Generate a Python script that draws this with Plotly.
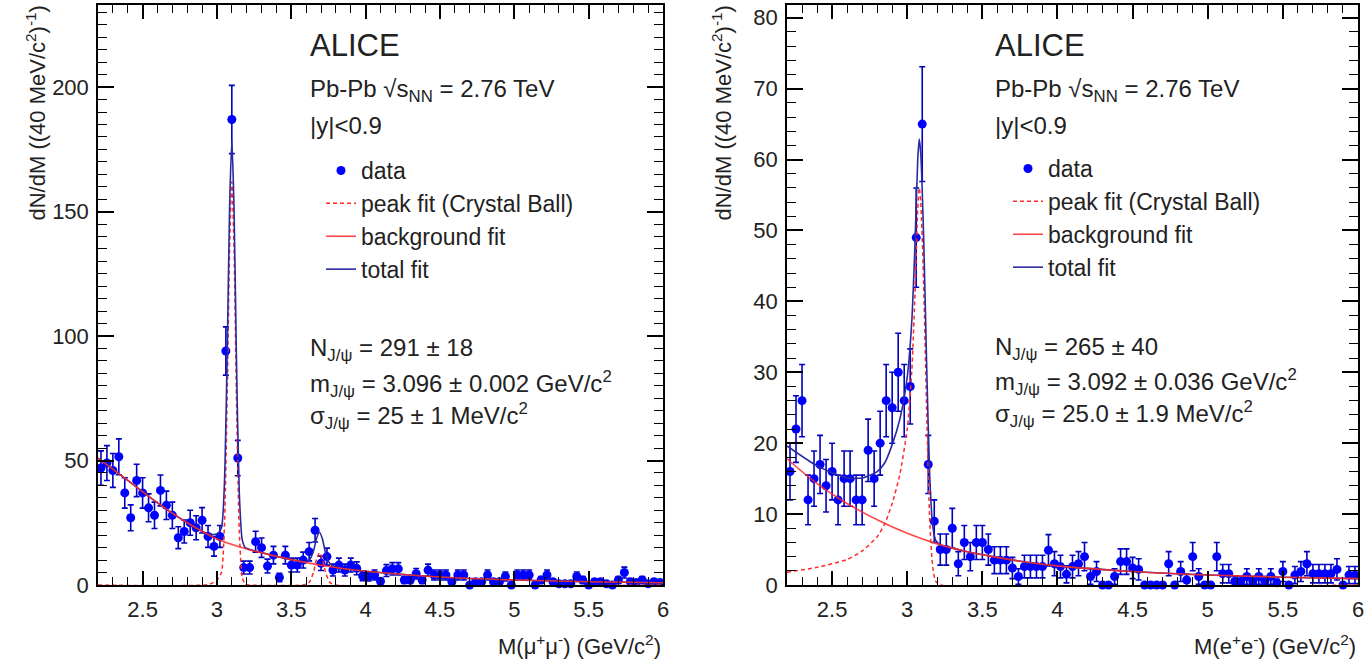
import plotly.graph_objects as go

# ---------------- data ----------------
MASS_BINS = [2.22, 2.26, 2.30, 2.34, 2.38, 2.42, 2.46, 2.50, 2.54, 2.58,
             2.62, 2.66, 2.70, 2.74, 2.78, 2.82, 2.86, 2.90, 2.94, 2.98,
             3.02, 3.06, 3.10, 3.14, 3.18, 3.22, 3.26, 3.30, 3.34, 3.38,
             3.42, 3.46, 3.50, 3.54, 3.58, 3.62, 3.66, 3.70, 3.74, 3.78,
             3.82, 3.86, 3.90, 3.94, 3.98, 4.02, 4.06, 4.10, 4.14, 4.18,
             4.22, 4.26, 4.30, 4.34, 4.38, 4.42, 4.46, 4.50, 4.54, 4.58,
             4.62, 4.66, 4.70, 4.74, 4.78, 4.82, 4.86, 4.90, 4.94, 4.98,
             5.02, 5.06, 5.10, 5.14, 5.18, 5.22, 5.26, 5.30, 5.34, 5.38,
             5.42, 5.46, 5.50, 5.54, 5.58, 5.62, 5.66, 5.70, 5.74, 5.78,
             5.82, 5.86, 5.90, 5.94, 5.98]

MUMU_COUNTS = [47, 49, 46, 51.5, 37, 27, 42, 37, 31, 28,
               38, 32, 28, 19, 21.5, 25, 23, 26, 19.5, 15.5,
               19.5, 94, 187, 51, 7, 7, 17.4, 15, 7.6, 12,
               3, 12, 8, 8, 10, 13.4, 22, 8.7, 11.4, 6,
               8, 6, 8, 6.7, 3.6, 3.4, 4, 1.5, 5.8, 6.5,
               6.5, 2, 2, 4.5, 2, 6, 4, 4, 4, 1.3,
               4, 4, 0, 1.3, 1.3, 4, 1.3, 1.3, 3.4, 0,
               4, 4, 4, 0, 2, 4, 1.3, 0.5, 0.5, 0.5,
               3.4, 2, 0, 1.3, 1.3, 0.5, 0, 2, 5, 1.3,
               1, 2, 0.5, 1.3, 1]
MUMU_ERRORS = [6.9, 7.0, 6.8, 7.2, 6.1, 5.2, 6.5, 6.1, 5.6, 5.3,
               6.2, 5.7, 5.3, 4.4, 4.6, 5.0, 4.8, 5.1, 4.4, 3.9,
               4.4, 9.7, 13.7, 7.1, 2.6, 2.6, 4.2, 3.9, 2.8, 3.5,
               1.7, 3.5, 2.8, 2.8, 3.2, 3.7, 4.7, 2.9, 3.4, 2.4,
               2.8, 2.4, 2.8, 2.6, 1.9, 1.8, 2.0, 1.2, 2.4, 2.5,
               2.5, 1.4, 1.4, 2.1, 1.4, 2.4, 2.0, 2.0, 2.0, 1.1,
               2.0, 2.0, 0, 1.1, 1.1, 2.0, 1.1, 1.1, 1.8, 0,
               2.0, 2.0, 2.0, 0, 1.4, 2.0, 1.1, 0.7, 0.7, 0.7,
               1.8, 1.4, 0, 1.1, 1.1, 0.7, 0, 1.4, 2.2, 1.1,
               1.0, 1.4, 0.7, 1.1, 1.0]

EE_COUNTS = [16, 22, 26, 12, 15, 17, 14, 16, 12, 15,
             15, 12, 12, 19, 15, 20, 26, 25, 30, 26,
             28, 49, 65, 17, 9, 5, 5, 8, 3, 6,
             4, 6, 6, 5, 3.5, 3.5, 3.5, 2.4, 1.2, 2.6,
             2.6, 2.6, 2.6, 4.9, 3, 2.6, 1.5, 2.6, 3, 4,
             1.2, 1.9, 0, 0, 1.2, 3.3, 3.3, 2.4, 2.2, 0,
             0, 0, 0, 3, 0, 1.9, 0.7, 4, 1.2, 0,
             0, 4, 1.6, 1.6, 0.5, 0.5, 1.2, 0.5, 1.2, 0.5,
             1.2, 0.3, 1.9, 0, 1.4, 1.9, 3, 1.6, 1.6, 1.6,
             1.6, 2.2, 0, 1.4, 1.4]
EE_ERRORS = [4.0, 4.7, 5.1, 3.5, 3.9, 4.1, 3.7, 4.0, 3.5, 3.9,
             3.9, 3.5, 3.5, 4.4, 3.9, 4.5, 5.1, 5.0, 5.5, 5.1,
             5.3, 7.0, 8.1, 4.1, 3.0, 2.2, 2.2, 2.8, 1.7, 2.4,
             2.0, 2.4, 2.4, 2.2, 1.9, 1.9, 1.9, 1.5, 1.1, 1.6,
             1.6, 1.6, 1.6, 2.2, 1.7, 1.6, 1.2, 1.6, 1.7, 2.0,
             1.1, 1.4, 0, 0, 1.1, 1.8, 1.8, 1.5, 1.5, 0,
             0, 0, 0, 1.7, 0, 1.4, 0.8, 2.0, 1.1, 0,
             0, 2.0, 1.3, 1.3, 0.7, 0.7, 1.1, 0.7, 1.1, 0.7,
             1.1, 0.5, 1.4, 0, 1.2, 1.4, 1.7, 1.3, 1.3, 1.3,
             1.3, 1.5, 0, 1.2, 1.2]

# fit curves
MUMU_BG_X = [2.2, 2.4, 2.6, 2.8, 3.0, 3.2, 3.4, 3.6, 3.8, 4.0, 4.5, 5.0, 5.5, 6.0]
MUMU_BG_Y = [51, 42, 33, 25, 18.5, 14.5, 11.5, 9, 7, 5.5, 3.2, 2, 1.3, 0.9]
MUMU_PEAK_X = [2.2, 2.95, 3.0, 3.03, 3.05, 3.07, 3.085, 3.1, 3.115, 3.13, 3.15, 3.17,
               3.19, 3.22, 3.58, 3.62, 3.65, 3.67, 3.69, 3.71, 3.73, 3.76, 3.8, 6.0]
MUMU_PEAK_Y = [0, 0.3, 2, 5, 23, 80, 135, 162, 135, 79, 22, 3.2,
               0.3, 0, 0, 1.0, 5.2, 10.4, 13, 10.4, 5.2, 1.0, 0, 0]
MUMU_TOT_X = [2.2, 2.4, 2.6, 2.8, 2.95, 3.0, 3.03, 3.05, 3.07, 3.085, 3.1, 3.115, 3.13,
              3.15, 3.17, 3.19, 3.22, 3.3, 3.4, 3.5, 3.58, 3.62, 3.65, 3.67, 3.69, 3.71,
              3.73, 3.76, 3.8, 4.0, 4.5, 5.0, 5.5, 6.0]
MUMU_TOT_Y = [51, 42, 33, 25, 20.3, 20.5, 22.9, 40.4, 97, 151.7, 178.4, 151.1, 94.8,
              37.4, 18.2, 15, 14.3, 13, 11.5, 10.2, 9.3, 9.9, 13.8, 18.8, 21.2, 18.4,
              13, 8.5, 7, 5.5, 3.2, 2, 1.3, 0.9]

EE_BG_X = [2.2, 2.4, 2.6, 2.8, 3.0, 3.2, 3.4, 3.6, 3.8, 4.0, 4.5, 5.0, 5.5, 6.0]
EE_BG_Y = [17.8, 14.3, 11.5, 9.2, 7.3, 5.8, 4.7, 3.9, 3.2, 2.7, 1.9, 1.4, 1.1, 0.9]
EE_PEAK_X = [2.2, 2.4, 2.6, 2.7, 2.8, 2.85, 2.9, 2.95, 3.0, 3.03, 3.05, 3.07, 3.08,
             3.09, 3.11, 3.13, 3.15, 3.17, 3.19, 3.22, 6.0]
EE_PEAK_Y = [1.8, 2.5, 3.6, 4.8, 6.8, 8.6, 11.5, 15.5, 22, 30, 40, 53, 56,
             54, 42, 24, 9, 2.5, 0.5, 0, 0]
EE_TOT_X = [2.2, 2.4, 2.6, 2.7, 2.8, 2.85, 2.9, 2.95, 3.0, 3.03, 3.05, 3.07, 3.08,
            3.09, 3.11, 3.13, 3.15, 3.17, 3.19, 3.22, 3.3, 3.4, 3.6, 3.8, 4.0, 4.5,
            5.0, 5.5, 6.0]
EE_TOT_Y = [19.6, 16.8, 15.1, 15.1, 16.0, 17.2, 19.8, 23.3, 29.3, 37, 47, 60, 62.9,
            60.9, 48.6, 30.5, 15.3, 8.3, 6.3, 5.7, 5.2, 4.7, 3.9, 3.2, 2.7, 1.9,
            1.4, 1.1, 0.9]

X_TICKS = [2.5, 3, 3.5, 4, 4.5, 5, 5.5, 6]

FONT = "Liberation Sans, Arial, Helvetica, sans-serif"
W, H = 1364, 661
DATA_BLUE = "#0000ff"
ERR_BLUE = "#0000c0"
TOT_BLUE = "#2a2aa0"
RED = "#ff2a2a"
TXT = 24


def px(x):
    return x / W


def py(y):
    return 1 - y / H


fig = go.Figure()


def add_panel(xa, ya, leg, bins, counts, errs, bgx, bgy, pkx, pky, tx, ty):
    fig.add_trace(go.Scatter(x=bins, y=counts, mode="markers", xaxis=xa, yaxis=ya,
                             marker=dict(color=DATA_BLUE, size=9),
                             error_y=dict(type="data", array=errs, visible=True,
                                          color=ERR_BLUE, thickness=1.6, width=3),
                             cliponaxis=False, name="data", legend=leg,
                             legendgroup=leg + "a"))
    fig.add_trace(go.Scatter(x=pkx, y=pky, mode="lines", xaxis=xa, yaxis=ya,
                             line=dict(color=RED, width=1.5, dash="4px,3px",
                                       shape="spline", smoothing=0.6),
                             name="peak fit (Crystal Ball)", legend=leg,
                             legendgroup=leg + "b"))
    fig.add_trace(go.Scatter(x=tx, y=ty, mode="lines", xaxis=xa, yaxis=ya,
                             line=dict(color=TOT_BLUE, width=1.6, shape="spline",
                                       smoothing=0.6),
                             name="total fit", legend=leg, legendgroup=leg + "d",
                             legendrank=1004))
    fig.add_trace(go.Scatter(x=bgx, y=bgy, mode="lines", xaxis=xa, yaxis=ya,
                             line=dict(color=RED, width=1.6, shape="spline"),
                             opacity=0.85,
                             name="background fit", legend=leg,
                             legendgroup=leg + "c", legendrank=1003))


add_panel("x", "y", "legend", MASS_BINS, MUMU_COUNTS, MUMU_ERRORS,
          MUMU_BG_X, MUMU_BG_Y, MUMU_PEAK_X, MUMU_PEAK_Y, MUMU_TOT_X, MUMU_TOT_Y)
add_panel("x2", "y2", "legend2", MASS_BINS, EE_COUNTS, EE_ERRORS,
          EE_BG_X, EE_BG_Y, EE_PEAK_X, EE_PEAK_Y, EE_TOT_X, EE_TOT_Y)

axis_common = dict(showline=True, linecolor="black", linewidth=1.5, mirror="ticks",
                   ticks="inside", tickcolor="black", tickwidth=1.5,
                   showgrid=False, zeroline=False, automargin=False,
                   ticklabeloverflow="allow",
                   tickfont=dict(family=FONT, size=22, color="#222"))

x_common = dict(axis_common, range=[2.2, 6.0], tickvals=X_TICKS, ticklen=14,
                ticklabelstandoff=4,
                minor=dict(dtick=0.1, ticks="inside", ticklen=8, tickcolor="black",
                           tickwidth=1.2, showgrid=False))

leg_common = dict(xanchor="left", yanchor="top", bgcolor="rgba(0,0,0,0)",
                  font=dict(family=FONT, size=23, color="#222"),
                  tracegroupgap=0, traceorder="grouped", itemwidth=30)

fig.update_layout(
    width=W, height=H, margin=dict(l=0, r=0, t=0, b=0, autoexpand=False),
    paper_bgcolor="white", plot_bgcolor="white",
    font=dict(family=FONT, color="#222"),
    xaxis=dict(x_common, domain=[px(98), px(663)], anchor="y"),
    yaxis=dict(axis_common, domain=[py(585), py(5)], anchor="x", range=[0, 233],
               dtick=50, ticklen=16, ticklabelstandoff=3,
               minor=dict(dtick=5, ticks="inside", ticklen=9, tickcolor="black",
                          tickwidth=1.2, showgrid=False)),
    xaxis2=dict(x_common, domain=[px(787), px(1358)], anchor="y2"),
    yaxis2=dict(axis_common, domain=[py(585), py(5)], anchor="x2", range=[0, 81.8],
                dtick=10, ticklen=16, ticklabelstandoff=3,
                minor=dict(dtick=2, ticks="inside", ticklen=9, tickcolor="black",
                           tickwidth=1.2, showgrid=False)),
    legend=dict(leg_common, x=px(321), y=py(149)),
    legend2=dict(leg_common, x=px(1008), y=py(147)),
    showlegend=True,
)

annots = []


def txt(x, y, text, size=TXT, xanchor="left", yanchor="middle", angle=0):
    annots.append(dict(x=px(x), y=py(y), xref="paper", yref="paper", text=text,
                       showarrow=False, xanchor=xanchor, yanchor=yanchor,
                       textangle=angle,
                       font=dict(family=FONT, size=size, color="#222")))


for x0 in (308, 993):
    txt(x0, 45, "ALICE", size=31)
    txt(x0, 90, "Pb-Pb √s<sub>NN</sub> = 2.76 TeV")
    txt(x0, 126, "|y|<0.9")

txt(308, 350, "N<sub>J/ψ</sub> = 291 ± 18")
txt(308, 384, "m<sub>J/ψ</sub> = 3.096 ± 0.002 GeV/c<sup>2</sup>")
txt(308, 416, "σ<sub>J/ψ</sub> = 25 ± 1 MeV/c<sup>2</sup>")
txt(993, 348, "N<sub>J/ψ</sub> = 265 ± 40")
txt(993, 382, "m<sub>J/ψ</sub> = 3.092 ± 0.036 GeV/c<sup>2</sup>")
txt(993, 414, "σ<sub>J/ψ</sub> = 25.0 ± 1.9 MeV/c<sup>2</sup>")

txt(36, 4, "dN/dM ((40 MeV/c<sup>2</sup>)<sup>-1</sup>)", size=22, xanchor="center",
    yanchor="top", angle=-90)
txt(722, 4, "dN/dM ((40 MeV/c<sup>2</sup>)<sup>-1</sup>)", size=22, xanchor="center",
    yanchor="top", angle=-90)
txt(663, 645, "M(μ<sup>+</sup>μ<sup>-</sup>) (GeV/c<sup>2</sup>)", size=22,
    xanchor="right")
txt(1358, 645, "M(e<sup>+</sup>e<sup>-</sup>) (GeV/c<sup>2</sup>)", size=22,
    xanchor="right")

fig.update_layout(annotations=annots)

fig.write_html("out.html")
